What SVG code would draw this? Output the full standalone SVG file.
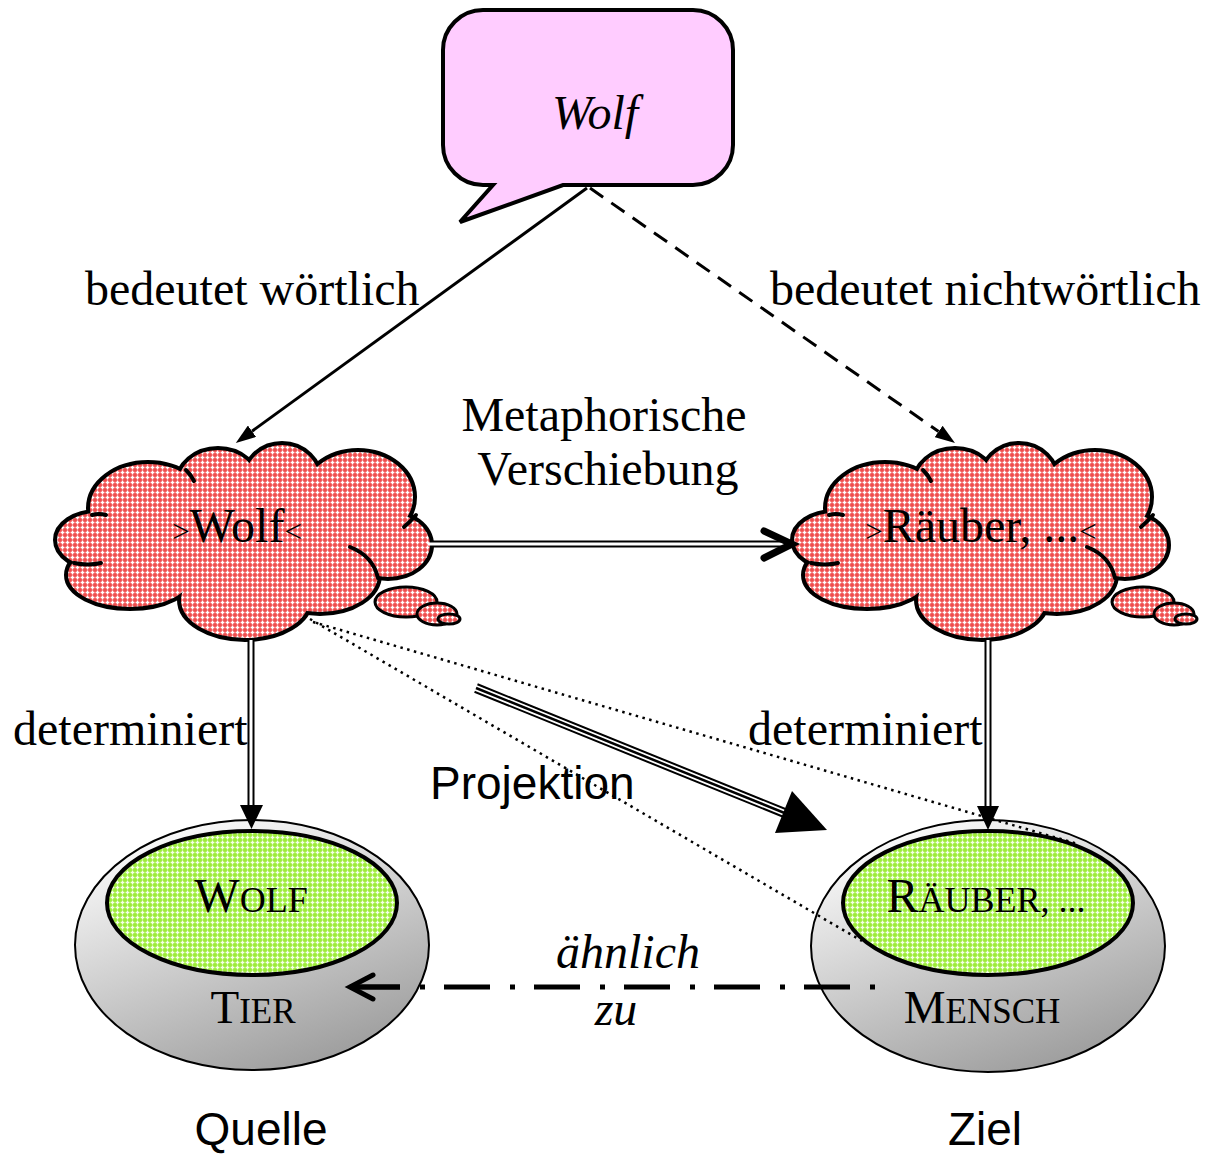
<svg xmlns="http://www.w3.org/2000/svg" xmlns:xlink="http://www.w3.org/1999/xlink" width="1209" height="1156" viewBox="0 0 1209 1156">
<style>
.serif{font-family:"Liberation Serif","Times New Roman",serif;font-size:48px;fill:#000}
.ital{font-style:italic}
.sans{font-family:"Liberation Sans",Arial,sans-serif;font-size:46px;fill:#000}
.cs{fill:none;stroke:#000;stroke-width:8}
.cf{fill:url(#red);stroke:none}
.tick{fill:none;stroke:#000;stroke-width:4;stroke-linecap:round}
.bub{fill:url(#red);stroke:#000;stroke-width:3}
.outer{fill:url(#gray);stroke:#000;stroke-width:2}
.inner{fill:url(#green);stroke:#000;stroke-width:4}
.dot{fill:none;stroke:#000;stroke-width:2.5;stroke-dasharray:2.5 4.5}
</style>
<defs>
<pattern id="red" patternUnits="userSpaceOnUse" width="5" height="5">
<rect width="5" height="5" fill="#f04c4c"/>
<path d="M2.5,0.6V4.4M0.6,2.5H4.4" stroke="#fff" stroke-width="1.4"/>
</pattern>
<pattern id="green" patternUnits="userSpaceOnUse" width="5" height="5">
<rect width="5" height="5" fill="#9cec38"/>
<path d="M2.5,0.6V4.4M0.6,2.5H4.4" stroke="#f4ffe8" stroke-width="1.3"/>
</pattern>
<linearGradient id="gray" x1="0.25" y1="0" x2="0.75" y2="1">
<stop offset="0" stop-color="#fdfdfd"/>
<stop offset="1" stop-color="#9a9a9a"/>
</linearGradient>
<marker id="tri" viewBox="0 0 20 14" refX="0" refY="7" markerWidth="20" markerHeight="14" markerUnits="userSpaceOnUse" orient="auto">
<path d="M0,0 L20,7 L0,14 z" fill="#000"/>
</marker>
<g id="cloudShape">
<g class="cs">
<ellipse cx="97" cy="540" rx="40" ry="27"/>
<ellipse cx="130" cy="575" rx="62" ry="32"/>
<ellipse cx="245" cy="600" rx="64" ry="38"/>
<ellipse cx="320" cy="575" rx="58" ry="37"/>
<ellipse cx="388" cy="545" rx="42" ry="32"/>
<ellipse cx="358" cy="497" rx="55" ry="45"/>
<ellipse cx="282" cy="482" rx="38" ry="37"/>
<ellipse cx="218" cy="484" rx="40" ry="34"/>
<ellipse cx="148" cy="508" rx="58" ry="44"/>
</g>
<g class="cf">
<ellipse cx="97" cy="540" rx="40" ry="27"/>
<ellipse cx="130" cy="575" rx="62" ry="32"/>
<ellipse cx="245" cy="600" rx="64" ry="38"/>
<ellipse cx="320" cy="575" rx="58" ry="37"/>
<ellipse cx="388" cy="545" rx="42" ry="32"/>
<ellipse cx="358" cy="497" rx="55" ry="45"/>
<ellipse cx="282" cy="482" rx="38" ry="37"/>
<ellipse cx="218" cy="484" rx="40" ry="34"/>
<ellipse cx="148" cy="508" rx="58" ry="44"/>
<ellipse cx="245" cy="540" rx="130" ry="50"/>
</g>
<g class="tick">
<path d="M350,547 Q373,556 378,578"/>
<path d="M186,470 Q191,475 194,481"/>
<path d="M416,515 Q410,522 404,527"/>
<path d="M74,563 Q88,566 101,563"/>
<path d="M92,515 Q99,513 106,515"/>
</g>
<ellipse class="bub" cx="406" cy="602" rx="31" ry="15"/>
<ellipse class="bub" cx="437" cy="614" rx="20" ry="11"/>
<ellipse class="bub" cx="449" cy="619" rx="11" ry="5"/>
</g>
</defs>

<g id="wolf-word">
<path d="M483,10 H693 A40,40 0 0 1 733,50 V145 A40,40 0 0 1 693,185 H563 L460,222 L493,185 H483 A40,40 0 0 1 443,145 V50 A40,40 0 0 1 483,10 Z" fill="#ffccff" stroke="#000" stroke-width="4" stroke-linejoin="miter"/>
<text class="serif ital" x="595" y="129" text-anchor="middle" font-size="49">Wolf</text>
</g>

<g id="concept-wolf">
<use xlink:href="#cloudShape"/>
<text class="serif" x="237" y="542" text-anchor="middle"><tspan font-size="31">&gt;</tspan>Wolf<tspan font-size="31">&lt;</tspan></text>
</g>

<g id="concept-raeuber">
<use xlink:href="#cloudShape" transform="translate(737,0)"/>
<text class="serif" x="981" y="542" text-anchor="middle"><tspan font-size="31">&gt;</tspan>Räuber, ...<tspan font-size="31">&lt;</tspan></text>
</g>

<g id="domain-tier">
<ellipse class="outer" cx="252" cy="945" rx="177" ry="125"/>
<ellipse class="inner" cx="252" cy="903" rx="145" ry="72"/>
<text class="serif" x="251" y="912" text-anchor="middle"><tspan font-size="48">W</tspan><tspan font-size="36">OLF</tspan></text>
<text class="serif" x="253" y="1023" text-anchor="middle"><tspan font-size="47">T</tspan><tspan font-size="35">IER</tspan></text>
<text class="sans" x="261" y="1145" text-anchor="middle">Quelle</text>
</g>

<g id="domain-mensch">
<ellipse class="outer" cx="988" cy="946" rx="177" ry="126"/>
<ellipse class="inner" cx="988" cy="903" rx="145" ry="72"/>
<text class="serif" x="986" y="912" text-anchor="middle"><tspan font-size="48">R</tspan><tspan font-size="36">ÄUBER, ...</tspan></text>
<text class="serif" x="982" y="1023" text-anchor="middle"><tspan font-size="47">M</tspan><tspan font-size="35">ENSCH</tspan></text>
<text class="sans" x="985" y="1145" text-anchor="middle">Ziel</text>
</g>

<g id="connectors">
<line x1="587" y1="188" x2="252" y2="431.2" stroke="#000" stroke-width="3" marker-end="url(#tri)"/>
<line x1="590" y1="188" x2="938.6" y2="431.5" stroke="#000" stroke-width="3" stroke-dasharray="16 10" marker-end="url(#tri)"/>
<line x1="430" y1="544" x2="786" y2="544" stroke="#000" stroke-width="7"/>
<line x1="428" y1="544" x2="788" y2="544" stroke="#fff" stroke-width="3"/>
<path d="M764,531 L792,544 L764,558" fill="none" stroke="#000" stroke-width="7" stroke-linecap="round" stroke-linejoin="miter"/>
<line x1="251" y1="640" x2="251" y2="806" stroke="#000" stroke-width="7"/>
<line x1="251" y1="640" x2="251" y2="806" stroke="#fff" stroke-width="3"/>
<polygon points="240,805 263,805 251.5,829"/>
<line x1="988" y1="640" x2="988" y2="807" stroke="#000" stroke-width="7"/>
<line x1="988" y1="640" x2="988" y2="807" stroke="#fff" stroke-width="3"/>
<polygon points="977,806 999,806 988,830"/>
<line x1="476" y1="688" x2="792" y2="816" stroke="#000" stroke-width="10"/>
<line x1="474" y1="687.2" x2="792" y2="816" stroke="#fff" stroke-width="6"/>
<line x1="476" y1="688" x2="792" y2="816" stroke="#000" stroke-width="2.5"/>
<polygon points="792,791 827,830 775,833"/>
<line class="dot" x1="313" y1="622" x2="1078" y2="844"/>
<line class="dot" x1="310" y1="619" x2="862" y2="941"/>
<path d="M875,987 H352" fill="none" stroke="#000" stroke-width="5" stroke-dasharray="5 20 46 19"/>
<path d="M373,975 L350,987 L373,999" fill="none" stroke="#000" stroke-width="5" stroke-linecap="round"/>
<line x1="350" y1="987" x2="400" y2="987" stroke="#000" stroke-width="5"/>
</g>

<g id="labels">
<text class="serif" x="85" y="305">bedeutet wörtlich</text>
<text class="serif" x="770" y="305">bedeutet nichtwörtlich</text>
<text class="serif" x="604" y="431" text-anchor="middle">Metaphorische</text>
<text class="serif" x="608" y="485" text-anchor="middle">Verschiebung</text>
<text class="serif" x="13" y="745">determiniert</text>
<text class="serif" x="748" y="745">determiniert</text>
<text class="sans" x="430" y="799">Projektion</text>
<text class="serif ital" x="628" y="968" text-anchor="middle">ähnlich</text>
<text class="serif ital" x="616" y="1025" text-anchor="middle">zu</text>
</g>
</svg>
